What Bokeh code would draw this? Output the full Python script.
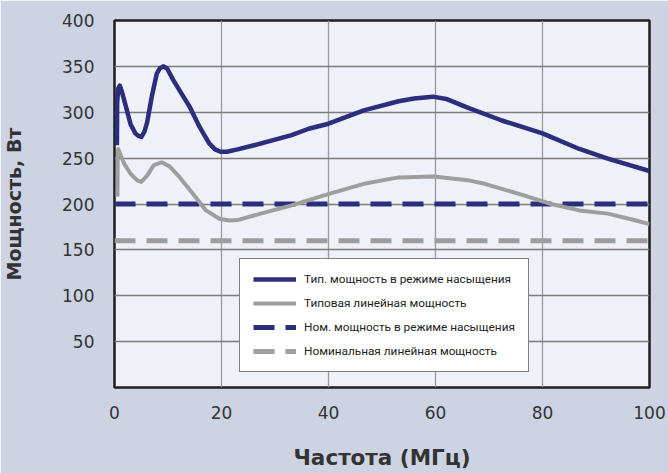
from bokeh.plotting import figure
from bokeh.models import Range1d, FixedTicker, Legend, LegendItem
from bokeh.embed import file_html
from bokeh.resources import INLINE

# ---- data ----
freq_typ_sat = [0.45, 0.5, 0.7, 1.0, 1.4, 2.1, 3.0, 3.9, 4.4, 5.0, 5.6, 6.1, 7.0, 7.9, 8.5, 9.1,
                9.8, 11.0, 12.5, 14.1, 15.9, 17.7, 18.8, 19.8, 21.0, 23.0, 26.1, 33.1, 36.3,
                40.0, 46.6, 53.1, 56.0, 59.5, 62.0, 66.0, 72.4, 80.0, 86.9, 92.2, 100.0]
pwr_typ_sat = [264, 310, 326, 329, 322, 307, 287, 277, 274.5, 273, 279, 289, 318, 342, 348, 350,
               348, 335, 320.5, 305.5, 284, 266, 259.5, 257, 257, 259.5, 264, 275, 282,
               287.5, 302, 312, 315, 317, 314.5, 305, 291, 277, 260, 249.5, 236]

freq_typ_lin = [0.55, 0.6, 0.7, 1.8, 3.0, 4.2, 5.0, 6.1, 7.3, 8.8, 10.3, 12.2, 14.7, 17.1, 19.6,
                21.5, 23.0, 27.3, 33.1, 40.1, 46.6, 53.1, 59.7, 66.0, 69.2, 75.6, 81.6, 86.9,
                92.2, 97.5, 100.0]
pwr_typ_lin = [208, 250, 260, 244, 233, 226, 224, 231, 242, 245.5, 241, 229, 211, 193, 184,
               182, 182.5, 189.5, 198.5, 211, 222, 229, 230, 226, 222, 211, 200, 193,
               189.5, 182, 178]

freq_nom = [0, 100]
pwr_nom_sat = [200, 200]
pwr_nom_lin = [160, 160]

x_ticks = [0, 20, 40, 60, 80, 100]
y_ticks = [50, 100, 150, 200, 250, 300, 350, 400]

series_labels = ["Тип. мощность в режиме насыщения",
                 "Типовая линейная мощность",
                 "Ном. мощность в режиме насыщения",
                 "Номинальная линейная мощность"]
x_title = "Частота (МГц)"
y_title = "Мощность, Вт"

# ---- styling ----
BG = "#cdd3e3"
PLOT_BG = "#eef1f7"
NAVY = "#2c2d7c"
GREY = "#9e9e9e"
TXT = "#333333"

p = figure(width=668, height=473, output_backend="svg", toolbar_location=None,
           x_range=Range1d(0, 100), y_range=Range1d(0, 400),
           min_border_left=112, min_border_right=19, min_border_top=20, min_border_bottom=86)
p.background_fill_color = PLOT_BG
p.border_fill_color = BG
p.outline_line_color = "#1e1e1e"
p.outline_line_width = 2.5

p.xaxis.ticker = FixedTicker(ticks=x_ticks)
p.yaxis.ticker = FixedTicker(ticks=y_ticks)
for ax in (p.xaxis, p.yaxis):
    ax.axis_line_color = None
    ax.major_tick_line_color = None
    ax.minor_tick_line_color = None
    ax.major_tick_out = 0
    ax.major_tick_in = 0
    ax.major_label_text_font = "DejaVu Sans"
    ax.major_label_text_font_size = "17px"
    ax.major_label_text_color = TXT
    ax.axis_label_text_font = "DejaVu Sans"
    ax.axis_label_text_font_style = "bold"
    ax.axis_label_text_color = TXT
p.xaxis.axis_label_text_font_size = "21.5px"
p.yaxis.axis_label_text_font_size = "19px"
p.xaxis.major_label_standoff = 18
p.yaxis.major_label_standoff = 20
p.xaxis.axis_label = x_title
p.yaxis.axis_label = y_title
p.xaxis.axis_label_standoff = 23
p.yaxis.axis_label_standoff = 34

p.xgrid.grid_line_color = "#9a9a9a"
p.xgrid.grid_line_width = 1.3
p.ygrid.grid_line_color = "#7c7c7c"
p.ygrid.grid_line_width = 1.3

# ---- data lines ----
r_nl = p.line(freq_nom, pwr_nom_lin, line_color=GREY, line_width=5, line_dash="21 11")
r_ns = p.line(freq_nom, pwr_nom_sat, line_color=NAVY, line_width=5, line_dash="21 11")
r_tl = p.line(freq_typ_lin, pwr_typ_lin, line_color=GREY, line_width=4, line_join="round")
r_ts = p.line(freq_typ_sat, pwr_typ_sat, line_color=NAVY, line_width=4.5, line_join="round")

legend = Legend(items=[LegendItem(label=series_labels[0], renderers=[r_ts]),
                       LegendItem(label=series_labels[1], renderers=[r_tl]),
                       LegendItem(label=series_labels[2], renderers=[r_ns]),
                       LegendItem(label=series_labels[3], renderers=[r_nl])],
                location=(125, 15))
legend.border_line_color = "black"
legend.border_line_width = 1.5
legend.background_fill_color = "white"
legend.background_fill_alpha = 1.0
legend.padding = 13
legend.spacing = 10
legend.margin = 0
legend.glyph_width = 43
legend.glyph_height = 14
legend.label_height = 14
legend.label_standoff = 8
legend.label_text_font = "'Liberation Sans Narrow', Roboto"
legend.label_text_font_size = "11.8px"
legend.label_text_color = "#222222"
p.add_layout(legend)

html = file_html(p, INLINE)
html = html.replace("<body>", '<body style="background:%s;">' % BG, 1)
open("out.html", "w").write(html)
